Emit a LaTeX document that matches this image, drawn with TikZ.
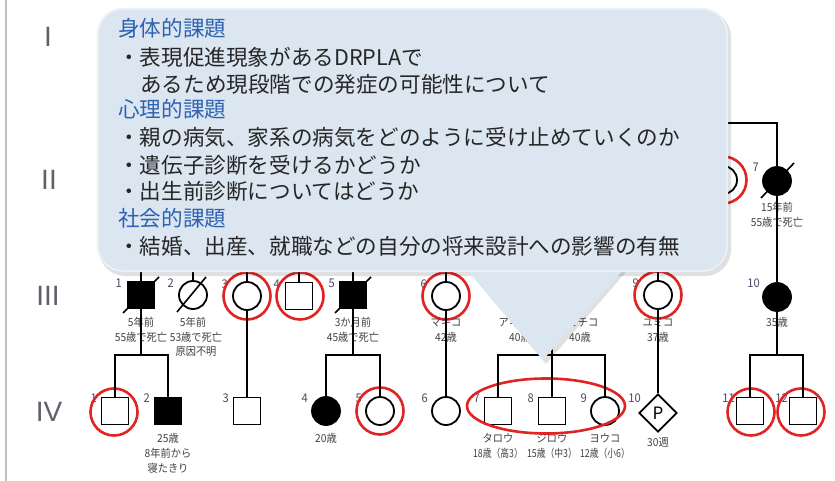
\documentclass[tikz,border=0pt]{standalone}
\usepackage{fontspec}
\setmainfont{Noto Sans CJK JP}
\newfontfamily\lblfont[FakeStretch=0.93]{Noto Sans CJK JP}
\newfontfamily\lblnarrow[FakeStretch=0.8]{Noto Sans CJK JP}
\newfontfamily\romfont{Liberation Sans}
\usetikzlibrary{shapes.geometric,calc}
\definecolor{heading}{RGB}{46,98,178}
\definecolor{ringred}{RGB}{225,35,35}
\definecolor{callfill}{RGB}{219,230,241}
\definecolor{lblgray}{RGB}{65,65,65}
\definecolor{numgray}{RGB}{70,76,100}
\definecolor{romgray}{RGB}{95,98,105}
\definecolor{txtc}{RGB}{38,38,38}
\tikzset{
  sqr/.style={rectangle, draw=black, line width=1.8pt, minimum size=27pt, inner sep=0pt},
  fsqr/.style={sqr, fill=black},
  cir/.style={circle, draw=black, line width=1.8pt, minimum size=28pt, inner sep=0pt},
  fcir/.style={cir, fill=black},
  ring/.style={circle, draw=ringred, line width=2.6pt, minimum size=47pt, inner sep=0pt},
  link/.style={line width=1.6pt},
  num/.style={font=\lblfont\fontsize{12}{12}\selectfont, text=numgray, inner sep=0pt, anchor=east},
  lbl/.style={font=\lblfont\fontsize{11}{12}\selectfont, text=lblgray, inner sep=0pt},
  lbln/.style={font=\lblnarrow\fontsize{11}{12}\selectfont, text=lblgray, inner sep=0pt},
  gen/.style={font=\romfont\fontsize{28}{28}\selectfont, text=romgray, inner sep=0pt},
  hd/.style={font=\fontsize{21.6}{24}\selectfont, text=heading, inner sep=0pt, anchor=west},
  tx/.style={font=\fontsize{21.6}{24}\selectfont, text=txtc, inner sep=0pt, anchor=west},
}
\begin{document}
\begin{tikzpicture}[x=1pt,y=-1pt]
\useasboundingbox (0,0) rectangle (835,481);
\fill[white] (0,0) rectangle (835,481);
\draw[black!25, line width=1.2pt] (6,0) -- (6,481);

% generation labels
\node[gen] (gI) at (48,37) {I};
\node[gen] (gII) at (49,180) {II};
\node[gen] (gIII) at (48,296) {III};
\node[gen] (gIV) at (49,412) {IV};

% ---------- generation II ----------
\node[cir] (g2f) at (723,180) {};
\node[ring] (r2f) at (723,180) {};
\node[fcir] (g2g) at (777,181) {};
\draw[link] ($(g2g)+(-16,17)$) -- ($(g2g)+(17,-18)$);
\node[num] (n2g) at ($(g2g)+(-18,-14)$) {7};
\node[lbl] (a2g1) at (777,207) {15年前};
\node[lbl] (a2g2) at (777,222) {55歳で死亡};
\coordinate (t2) at (700,123);
\draw[link] (t2) -| (g2g.north);

% ---------- generation III ----------
\node[fsqr] (g3a) at (141,295) {};
\draw[link] ($(g3a)+(-18,18)$) -- ($(g3a)+(18,-18)$);
\node[num] (n3a) at ($(g3a)+(-19,-12)$) {1};
\node[lbl] (a3a1) at (141,322) {5年前};
\node[lbl] (a3a2) at (141,337) {55歳で死亡};

\node[cir] (g3b) at (193,295) {};
\draw[link] ($(g3b)+(-16,17)$) -- ($(g3b)+(13,-18)$);
\node[num] (n3b) at ($(g3b)+(-19,-12)$) {2};
\node[lbl] (a3b1) at (193,322) {5年前};
\node[lbl] (a3b2) at (196,337) {53歳で死亡};
\node[lbl] (a3b3) at (196,352) {原因不明};

\node[num] (n3c) at ($(247,296)+(-19,-12)$) {3};
\node[cir] (g3c) at (247,296) {};
\node[ring] (r3c) at (247,296) {};

\node[num] (n3d) at ($(299,296)+(-19,-12)$) {4};
\node[sqr] (g3d) at (299,296) {};
\node[ring] (r3d) at (300,296) {};

\node[fsqr] (g3e) at (353,295) {};
\draw[link] ($(g3e)+(-18,18)$) -- ($(g3e)+(18,-18)$);
\node[num] (n3e) at ($(g3e)+(-18,-12)$) {5};
\node[lbl] (a3e1) at (353,322) {3か月前};
\node[lbl] (a3e2) at (353,337) {45歳で死亡};

\node[num] (n3f) at ($(446,296)+(-19,-12)$) {6};
\node[cir] (g3f) at (446,296) {};
\node[ring] (r3f) at (446,296) {};
\node[lbl] (a3f1) at (446,322) {マキコ};
\node[lbl] (a3f2) at (446,337) {42歳};

\node[sqr] (g3g) at (525,296) {};
\node[cir] (g3h) at (579,296) {};
\node[lbl] (a3g1) at (514,322) {アキラ};
\node[lbl] (a3g2) at (520,337) {40歳};
\node[lbl] (a3h1) at (583,322) {ミチコ};
\node[lbl] (a3h2) at (580,337) {40歳};

\node[num] (n3i) at ($(658,295)+(-19,-12)$) {9};
\node[cir] (g3i) at (658,295) {};
\node[ring] (r3i) at (658,295) {};
\node[lbl] (a3i1) at (658,322) {ユミコ};
\node[lbl] (a3i2) at (658,337) {37歳};

\node[fcir] (g3j) at (777,297) {};
\node[num] (n3j) at ($(g3j)+(-17,-14)$) {10};
\node[lbl] (a3j1) at (777,322) {35歳};

% feeders from above
\foreach \nm/\xx in {g3a/141,g3b/193,g3c/247,g3d/299,g3e/353,g3f/446,g3i/658}{
  \coordinate (top-\nm) at (\xx,265);
  \draw[link] (top-\nm) -- (\nm.north);
}
\draw[link] (g2g.south) -- (g3j.north);

% ---------- generation IV ----------
\node[num] (n4a) at ($(115,411)+(-18,-13)$) {1};
\node[sqr] (g4a) at (115,411) {};
\node[ring] (r4a) at (114,412) {};

\node[fsqr] (g4b) at (168,411) {};
\node[num] (n4b) at ($(g4b)+(-18,-13)$) {2};
\node[lbl] (a4b1) at (168,438) {25歳};
\node[lbl] (a4b2) at (168,453) {8年前から};
\node[lbl] (a4b3) at (168,468) {寝たきり};

\node[sqr] (g4c) at (247,411) {};
\node[num] (n4c) at ($(g4c)+(-18,-13)$) {3};

\node[fcir] (g4d) at (326,411) {};
\node[num] (n4d) at ($(g4d)+(-18,-13)$) {4};
\node[lbl] (a4d1) at (326,438) {20歳};

\node[num] (n4e) at ($(380,411)+(-18,-13)$) {5};
\node[cir] (g4e) at (380,411) {};
\node[ring] (r4e) at (380,411) {};

\node[cir] (g4f) at (446,411) {};
\node[num] (n4f) at ($(g4f)+(-18,-13)$) {6};

\node[sqr] (g4g) at (498,411) {};
\node[num] (n4g) at ($(g4g)+(-18,-13)$) {7};
\node[lbl] (a4g1) at (498,438) {タロウ};
\node[lbln] (a4g2) at (498,453) {18歳（高3）};

\node[sqr] (g4h) at (552,411) {};
\node[num] (n4h) at ($(g4h)+(-18,-13)$) {8};
\node[lbl] (a4h1) at (552,438) {ジロウ};
\node[lbln] (a4h2) at (552,453) {15歳（中3）};

\node[cir] (g4i) at (605,411) {};
\node[num] (n4i) at ($(g4i)+(-18,-13)$) {9};
\node[lbl] (a4i1) at (605,438) {ヨウコ};
\node[lbln] (a4i2) at (605,453) {12歳（小6）};

\node[ellipse, draw=ringred, line width=2.6pt, minimum width=158pt, minimum height=55pt, inner sep=0pt] (r4gi) at (546,406) {};

\node[diamond, draw=black, line width=1.8pt, minimum size=38pt, inner sep=0pt, font=\fontsize{17}{17}\selectfont] (g4j) at (658,413) {P};
\node[num] (n4j) at ($(g4j)+(-17,-15)$) {10};
\node[lbl] (a4j1) at (658,442) {30週};

\node[num] (n4k) at ($(750,411)+(-15,-13)$) {11};
\node[sqr] (g4k) at (750,411) {};
\node[ring] (r4k) at (751,412) {};
\node[num] (n4l) at ($(803,411)+(-15,-13)$) {12};
\node[sqr] (g4l) at (803,411) {};
\node[ring] (r4l) at (801,412) {};

% sibships
\coordinate (s1) at (141,355);
\draw[link] (g3a.south) -- (s1);
\draw[link] (g4a.north) |- (s1) -| (g4b.north);
\draw[link] (g3c.south) -- (g4c.north);
\coordinate (s2) at (353,355);
\draw[link] (g3e.south) -- (s2);
\draw[link] (g4d.north) |- (s2) -| (g4e.north);
\draw[link] (g3f.south) -- (g4f.north);
\coordinate (m3) at (552,296);
\coordinate (s3) at (552,355);
\draw[link] (g3g.east) -- (g3h.west);
\draw[link] (m3) -- (s3);
\draw[link] (g4g.north) |- (s3) -| (g4i.north);
\draw[link] (s3) -- (g4h.north);
\draw[link] (g3i.south) -- (g4j.north);
\coordinate (s4) at (777,355);
\draw[link] (g3j.south) -- (s4);
\draw[link] (g4k.north) |- (s4) -| (g4l.north);

% ---------- callout ----------
\fill[black, opacity=0.12, rounded corners=26pt] (99,11) rectangle (731,276);
\fill[black, opacity=0.12] (470,272) -- (546,364) -- (626,272) -- cycle;
\fill[callfill, rounded corners=26pt] (97,8) rectangle (728,272);
\fill[callfill] (467,270) -- (543,360) -- (623,270) -- cycle;
\draw[white, opacity=0.6, line width=1.2pt, rounded corners=25pt] (98,9) rectangle (727,271);
\fill[callfill, rounded corners=24pt] (99.5,10.5) rectangle (725.5,269.5);

\node[hd] (h1) at (118,28) {身体的課題};
\node[tx] (l1) at (118,57) {・表現促進現象があるDRPLAで};
\node[tx] (l2) at (140,84) {あるため現段階での発症の可能性について};
\node[hd] (h2) at (118,109) {心理的課題};
\node[tx] (l3) at (118,137) {・親の病気、家系の病気をどのように受け止めていくのか};
\node[tx] (l4) at (118,165) {・遺伝子診断を受けるかどうか};
\node[tx] (l5) at (118,191) {・出生前診断についてはどうか};
\node[hd] (h3) at (118,218) {社会的課題};
\node[tx] (l6) at (118,246) {・結婚、出産、就職などの自分の将来設計への影響の有無};
\end{tikzpicture}
\end{document}
